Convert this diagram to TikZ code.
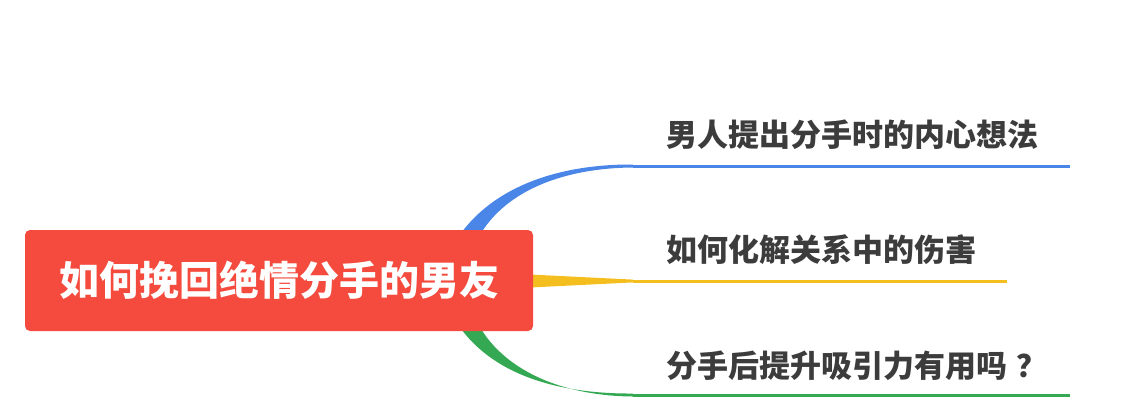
\documentclass[tikz,border=0pt]{standalone}
\usepackage{fontspec}
\newfontfamily\cjk{Noto Sans CJK SC}
\definecolor{rootred}{HTML}{F44B3E}
\definecolor{bblue}{HTML}{4A86E8}
\definecolor{byellow}{HTML}{F4BE1E}
\definecolor{bgreen}{HTML}{34A853}
\definecolor{txtgray}{HTML}{3C3C3C}
\begin{document}
\begin{tikzpicture}[x=1pt,y=-1pt,
  rootbox/.style={fill=rootred,rounded corners=5pt,minimum width=508pt,minimum height=101pt,inner sep=0pt,text=white,font=\cjk\bfseries\fontsize{40}{40}\selectfont},
  topic/.style={anchor=west,inner sep=0pt,text=txtgray,font=\cjk\bfseries\fontsize{31}{31}\selectfont},
  uline/.style={line width=3pt}]
\useasboundingbox (0,0) rectangle (1145,400);
% tapered connectors (drawn first, behind the root)
\coordinate (b0) at (633,166);
\coordinate (y0) at (633,281);
\coordinate (g0) at (633,395);
\fill[bblue] (455,242) .. controls (490,186) and (560,164) .. (633,164.5) -- (633,167.5) .. controls (565,168) and (502,190) .. (476,242) -- cycle;
\fill[bgreen] (455,320) .. controls (490,376) and (560,394) .. (633,393.5) -- (633,396.5) .. controls (565,396) and (502,372) .. (476,320) -- cycle;
\fill[byellow] (520,274) -- (633,279.6) -- (633,282.4) -- (520,288) -- cycle;
\node[rootbox] (root) at (279,280.5) {如何挽回绝情分手的男友};
% branch underlines
\coordinate (b1) at (1070,166);
\coordinate (y1) at (1007,281);
\coordinate (g1) at (1070,395);
\draw[uline,bblue] (b0) -- (b1);
\draw[uline,byellow] (y0) -- (y1);
\draw[uline,bgreen] (g0) -- (g1);
% topic labels
\node[topic] (t1) at (666,135) {男人提出分手时的内心想法};
\node[topic] (t2) at (666,250) {如何化解关系中的伤害};
\node[topic] (t3) at (666,366) {分手后提升吸引力有用吗\hspace{9pt}？};
\end{tikzpicture}
\end{document}
